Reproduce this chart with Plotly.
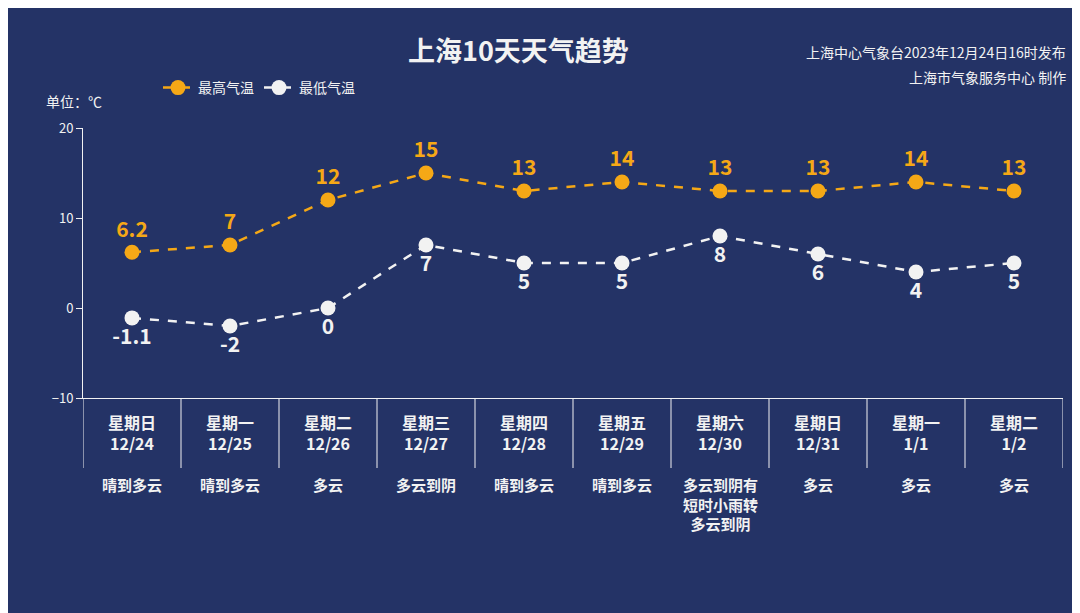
import plotly.graph_objects as go

weekdays = ["星期日","星期一","星期二","星期三","星期四","星期五","星期六","星期日","星期一","星期二"]
dates = ["12/24","12/25","12/26","12/27","12/28","12/29","12/30","12/31","1/1","1/2"]
weather = ["晴到多云","晴到多云","多云","多云到阴","晴到多云","晴到多云","多云到阴有<br>短时小雨转<br>多云到阴","多云","多云","多云"]
high = [6.2, 7, 12, 15, 13, 14, 13, 13, 14, 13]
low = [-1.1, -2, 0, 7, 5, 5, 8, 6, 4, 5]
yticks = [-10, 0, 10, 20]

BG = "#243366"
ORANGE = "#F5A816"
WHITE = "#F2F2F2"
FONT = "Noto Sans CJK SC"
xs = list(range(len(dates)))

L, R, T, B = 75, 1055, 120, 390
def px(x): return (x - L) / (R - L)
def py(y): return (B - y) / (B - T)

fig = go.Figure()
fig.add_trace(go.Scatter(x=xs, y=high, name="最高气温", mode="lines+markers+text",
    line=dict(color=ORANGE, width=2.5, dash="dash"), marker=dict(size=15, color=ORANGE),
    text=[str(v) for v in high], textposition="top center",
    textfont=dict(color=ORANGE, size=21, family=FONT, weight="bold")))
fig.add_trace(go.Scatter(x=xs, y=low, name="最低气温", mode="lines+markers+text",
    line=dict(color=WHITE, width=2.5, dash="dash"), marker=dict(size=15, color=WHITE),
    text=[str(v) for v in low], textposition="bottom center",
    textfont=dict(color=WHITE, size=21, family=FONT, weight="bold")))

shapes = []
for b in [i - 0.5 for i in range(len(dates) + 1)]:
    shapes.append(dict(type="line", xref="x", yref="paper", x0=b, x1=b, y0=0, y1=py(460),
                       line=dict(color=WHITE, width=1)))
ann = []
for i in xs:
    ann.append(dict(x=i, y=py(400), xref="x", yref="paper", yanchor="top", showarrow=False,
        text=f"<b>{weekdays[i]}</b><br><b>{dates[i]}</b>", align="center",
        font=dict(color=WHITE, size=16, family=FONT)))
    ann.append(dict(x=i, y=py(464), xref="x", yref="paper", yanchor="top", showarrow=False,
        text="<b>" + weather[i].replace("<br>", "</b><br><b>") + "</b>", align="center",
        font=dict(color=WHITE, size=15, family=FONT)))
ann += [
    dict(x=px(510), y=py(42), xref="paper", yref="paper", xanchor="center", yanchor="middle",
         showarrow=False, text="<b>上海10天天气趋势</b>", font=dict(size=27, color=WHITE, family=FONT)),
    dict(x=px(1060), y=py(44), xref="paper", yref="paper", xanchor="right", yanchor="middle",
         showarrow=False, text="上海中心气象台2023年12月24日16时发布", font=dict(size=14, color=WHITE, family=FONT)),
    dict(x=px(1060), y=py(69), xref="paper", yref="paper", xanchor="right", yanchor="middle",
         showarrow=False, text="上海市气象服务中心 制作", font=dict(size=14, color=WHITE, family=FONT)),
    dict(x=px(36), y=py(93), xref="paper", yref="paper", xanchor="left", yanchor="middle",
         showarrow=False, text="单位：℃", font=dict(size=14, color=WHITE, family=FONT)),
]

fig.update_layout(
    width=1080, height=613, paper_bgcolor=BG, plot_bgcolor=BG,
    margin=dict(l=L, r=1080 - R, t=T, b=613 - B),
    font=dict(family=FONT, color=WHITE),
    showlegend=True,
    legend=dict(orientation="h", x=px(150), xanchor="left", y=py(80), yanchor="middle",
                font=dict(size=14, color=WHITE), bgcolor="rgba(0,0,0,0)"),
    xaxis=dict(range=[-0.5, 9.5], showticklabels=False, showgrid=False, zeroline=False,
               showline=True, linecolor=WHITE, linewidth=1),
    yaxis=dict(range=[-10, 20], tickvals=yticks, showgrid=False, zeroline=False,
               showline=True, linecolor=WHITE, linewidth=1, ticks="outside", ticklen=6,
               tickcolor=WHITE, tickfont=dict(size=13, color=WHITE)),
    shapes=shapes,
    annotations=ann,
)
fig.write_html("out.html")
